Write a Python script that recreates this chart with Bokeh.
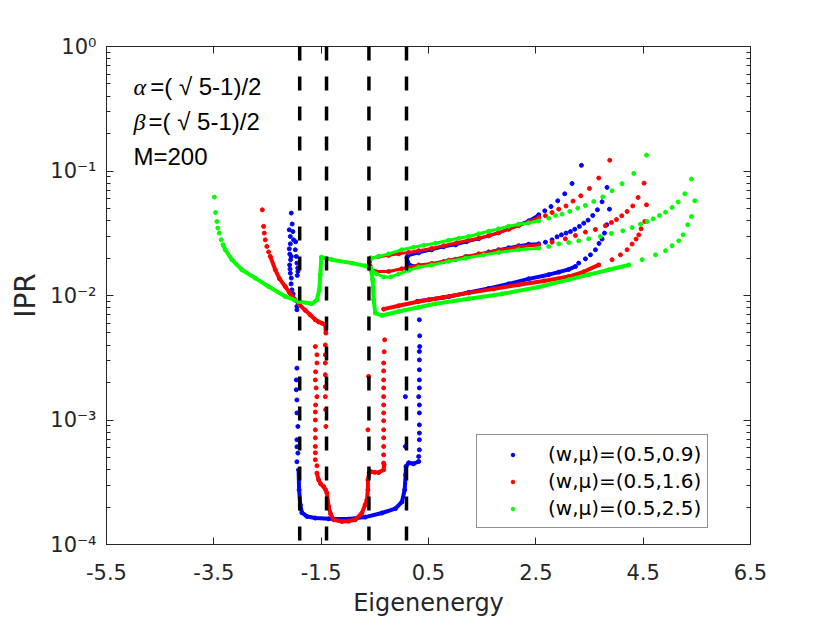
from bokeh.plotting import figure
from bokeh.models import (Range1d, FixedTicker, LinearAxis, LogAxis, Span, Label,
                          Legend, LegendItem, CustomJSTickFormatter)
from bokeh.embed import file_html
from bokeh.resources import INLINE

# ---------------- data ----------------
x_ticks = [-5.5, -3.5, -1.5, 0.5, 2.5, 4.5, 6.5]
y_ticks = [1e-4, 1e-3, 1e-2, 1e-1, 1.0]
band_edges = [-1.90, -1.40, -0.61, 0.09]
legend_labels = ["(w,μ)=(0.5,0.9)", "(w,μ)=(0.5,1.6)", "(w,μ)=(0.5,2.5)"]

# ---- (w,mu)=(0.5,0.9)  blue ----
blue_cluster_x = [-2.057, -2.094, -2.027, -2.075, -2.014, -2.075, -2.094, -1.982, -2.057, -1.963,
                  -2.070, -1.952, -2.088, -1.937, -1.934, -2.075, -2.057, -2.060, -2.045, -2.023,
                  -1.995, -1.952, -1.952, -2.085, -2.040, -1.975, -2.080, -1.945]
blue_cluster_y = [0.0459, 0.0337, 0.0326, 0.0298, 0.0280, 0.0260, 0.0237, 0.0233, 0.0206, 0.0206,
                  0.0194, 0.0182, 0.0176, 0.0166, 0.0156, 0.0151, 0.0138, 0.0124, 0.0111, 0.0103,
                  0.00923, 0.00817, 0.00768, 0.0215, 0.0375, 0.0270, 0.0163, 0.0145]
blue_drop_x = [-1.952, -1.963, -1.963, -1.952, -1.952, -1.934, -1.952, -1.952, -1.934, -1.952]
blue_drop_y = [0.00261, 0.00210, 0.00175, 0.00145, 0.00114, 0.000887, 0.000694, 0.000609,
               0.000542, 0.000462]
blue_floor_x = [-1.921, -1.911, -1.889, -1.859, -1.766, -1.609, -1.361, -0.988, -0.677, -0.368,
                -0.118, 0.005, 0.056, 0.074, 0.080, 0.130, 0.223, 0.317]
blue_floor_y = [0.000398, 0.000275, 0.000208, 0.000180, 0.000168, 0.000163, 0.000161, 0.000160,
                0.000166, 0.000179, 0.000194, 0.000220, 0.000275, 0.000363, 0.000423, 0.000453,
                0.000445, 0.000464]
blue_edge_x = [0.069, 0.069, 0.317, 0.330, 0.330, 0.330, 0.330, 0.330, 0.330, 0.317, 0.330,
               0.330, 0.330, 0.330, 0.330, 0.335, 0.335, 0.330]
blue_edge_y = [0.000613, 0.00154, 0.000509, 0.000576, 0.000694, 0.000785, 0.000914, 0.00114,
               0.00132, 0.00154, 0.00181, 0.00210, 0.00253, 0.00304, 0.00355, 0.00389, 0.00474,
               0.00638]
blue_top_x = [0.111, 0.317, 0.559, 0.783, 1.006, 1.211, 1.435, 1.622, 1.808, 1.994, 2.181,
              2.367, 2.554]
blue_top_y = [0.0208, 0.0220, 0.0233, 0.0246, 0.0255, 0.0270, 0.0285, 0.0302, 0.0319, 0.0343,
              0.0370, 0.0398, 0.0445]
blue_top_tail_x = [2.666, 2.783, 2.908, 3.038, 3.175, 3.350]
blue_top_tail_y = [0.0479, 0.0518, 0.0576, 0.0656, 0.0794, 0.111]
blue_mid_x = [0.098, 0.111, 0.149, 0.317, 0.559, 0.783, 1.006, 1.211, 1.435, 1.622, 1.808,
              1.994, 2.181, 2.367, 2.554]
blue_mid_y = [0.0201, 0.0187, 0.0176, 0.0171, 0.0178, 0.0187, 0.0195, 0.0205, 0.0214, 0.0224,
              0.0233, 0.0242, 0.0251, 0.0258, 0.0260]
blue_mid_tail_x = [2.679, 2.802, 2.895, 2.977, 3.063, 3.145, 3.225, 3.312, 3.393, 3.473, 3.560,
                   3.648, 3.734, 3.827]
blue_mid_tail_y = [0.0268, 0.0280, 0.0296, 0.0307, 0.0317, 0.0326, 0.0341, 0.0359, 0.0381,
                   0.0403, 0.0439, 0.0488, 0.0566, 0.0738]
blue_low_x = [0.285, 0.503, 0.876, 1.249, 1.622, 1.994, 2.367, 2.740, 2.927, 3.113, 3.238]
blue_low_y = [0.00895, 0.00923, 0.00977, 0.0106, 0.0114, 0.0124, 0.0136, 0.0147, 0.0154,
              0.0162, 0.0171]
blue_low_tail_x = [3.299, 3.424, 3.518, 3.611, 3.678, 3.734, 3.779, 3.821, 3.872]
blue_low_tail_y = [0.0182, 0.0197, 0.0212, 0.0233, 0.0262, 0.0284, 0.0317, 0.0370, 0.0494]

# ---- (w,mu)=(0.5,1.6)  red ----
red_tip_x = [-2.597, -2.573, -2.560, -2.541, -2.512, -2.480]
red_tip_y = [0.0488, 0.0359, 0.0317, 0.0280, 0.0248, 0.0224]
red_left_x = [-2.448, -2.355, -2.275, -2.169, -2.088, -1.982, -1.902, -1.796, -1.706, -1.609,
              -1.548, -1.486, -1.423, -1.412]
red_left_y = [0.0206, 0.0161, 0.0136, 0.0118, 0.0105, 0.00923, 0.00843, 0.00760, 0.00700,
              0.00638, 0.00614, 0.00599, 0.00582, 0.00499]
red_drop_x = [-1.609, -1.579, -1.579, -1.604, -1.609, -1.594, -1.579, -1.604, -1.609, -1.609,
              -1.609, -1.609, -1.609, -1.609, -1.609, -1.579,
              -1.423, -1.423, -1.423, -1.423, -1.423, -1.423, -1.417, -1.412,
              -0.616, -0.629,
              -0.336, -0.336, -0.336, -0.336, -0.336, -0.336, -0.336, -0.336, -0.336, -0.336,
              -0.336, -0.336, -0.336, -0.327, -0.317]
red_drop_y = [0.00389, 0.00334, 0.00287, 0.00244, 0.00210, 0.00181, 0.00154, 0.00132, 0.00116,
              0.00100, 0.000834, 0.000719, 0.000613, 0.000545, 0.000479, 0.000429,
              0.00401, 0.00334, 0.00287, 0.00231, 0.00185, 0.00154, 0.00121, 0.000887,
              0.00224, 0.000834,
              0.000451, 0.000525, 0.000613, 0.000719, 0.000834, 0.000986, 0.00114, 0.00132,
              0.00154, 0.00181, 0.00210, 0.00248, 0.00287, 0.00353, 0.00441]
red_floor_x = [-1.579, -1.548, -1.510, -1.455, -1.417, -1.393, -1.361, -1.324, -1.268, -1.113,
               -0.988, -0.864, -0.741, -0.681, -0.647, -0.629, -0.629, -0.606, -0.584, -0.504,
               -0.429, -0.336, -0.327]
red_floor_y = [0.000374, 0.000331, 0.000307, 0.000292, 0.000275, 0.000259, 0.000202, 0.000176,
               0.000158, 0.000153, 0.000154, 0.000158, 0.000179, 0.000208, 0.000229, 0.000275,
               0.000331, 0.000376, 0.000386, 0.000380, 0.000378, 0.000398, 0.000437]
red_top_x = [-0.578, -0.429, -0.243, -0.056, 0.130, 0.317, 0.559, 0.783, 1.025, 1.249, 1.435,
             1.622, 1.808, 1.994, 2.181, 2.367, 2.554]
red_top_y = [0.0200, 0.0205, 0.0210, 0.0216, 0.0222, 0.0229, 0.0239, 0.0251, 0.0265, 0.0278,
             0.0288, 0.0302, 0.0319, 0.0340, 0.0363, 0.0391, 0.0423]
red_top_tail_x = [2.679, 2.802, 2.927, 3.063, 3.193, 3.337, 3.499, 3.672, 3.877]
red_top_tail_y = [0.0437, 0.0464, 0.0494, 0.0524, 0.0573, 0.0633, 0.0724, 0.0878, 0.122]
red_mid_x = [-0.597, -0.588, -0.578, -0.491, -0.243, 0.000, 0.317, 0.559, 0.876, 1.187, 1.435,
             1.808, 2.181, 2.554]
red_mid_y = [0.0187, 0.0173, 0.0161, 0.0156, 0.0156, 0.0164, 0.0176, 0.0181, 0.0192, 0.0205,
             0.0216, 0.0231, 0.0246, 0.0255]
red_mid_tail_x = [2.802, 3.051, 3.238, 3.424, 3.611, 3.797, 3.909, 4.002, 4.101, 4.200, 4.306,
                  4.405, 4.517]
red_mid_tail_y = [0.0268, 0.0285, 0.0303, 0.0323, 0.0339, 0.0363, 0.0386, 0.0407, 0.0437,
                  0.0473, 0.0524, 0.0613, 0.0799]
red_low_x = [-0.336, -0.056, 0.317, 0.783, 1.249, 1.715, 2.181, 2.647, 3.113, 3.393, 3.672]
red_low_y = [0.00777, 0.00827, 0.00895, 0.00968, 0.0105, 0.0113, 0.0122, 0.0131, 0.0142,
             0.0155, 0.0176]
red_low_tail_x = [3.920, 4.077, 4.200, 4.293, 4.368, 4.418, 4.461, 4.530, 4.562]
red_low_tail_y = [0.0194, 0.0212, 0.0233, 0.0259, 0.0284, 0.0307, 0.0343, 0.0393, 0.0535]

# ---- (w,mu)=(0.5,2.5)  green ----
green_tip_x = [-3.492, -3.468, -3.444, -3.425, -3.399, -3.362]
green_tip_y = [0.0617, 0.0464, 0.0393, 0.0348, 0.0317, 0.0280]
green_main_x = [-3.328, -3.287, -3.164, -2.978, -2.728, -2.480, -2.169, -1.921, -1.673, -1.579,
                -1.535, -1.516, -1.497, -1.300, -0.927, -0.677, -0.578, -0.541, -0.522, -0.491,
                -0.368, -0.056, 0.317, 0.628, 1.249, 1.870, 2.554, 3.113, 3.486, 3.859, 4.232]
green_main_y = [0.0255, 0.0233, 0.0194, 0.0161, 0.0138, 0.0118, 0.00982, 0.00895, 0.00858,
                0.00923, 0.0111, 0.0147, 0.0203, 0.0194, 0.0182, 0.0173, 0.0166, 0.0134,
                0.00923, 0.00722, 0.00691, 0.00744, 0.00804, 0.00858, 0.00941, 0.0103, 0.0117,
                0.0134, 0.0147, 0.0161, 0.0176]
green_main_tail_x = [4.480, 4.729, 4.916, 5.039, 5.164, 5.244, 5.331, 5.400, 5.462]
green_main_tail_y = [0.0194, 0.0212, 0.0229, 0.0251, 0.0275, 0.0307, 0.0370, 0.0431, 0.0576]
green_top_x = [-0.560, -0.429, -0.243, 0.000, 0.223, 0.410, 0.628, 0.876, 1.062, 1.249, 1.435,
               1.622, 1.808, 1.994, 2.181, 2.367, 2.554]
green_top_y = [0.0199, 0.0206, 0.0216, 0.0233, 0.0244, 0.0253, 0.0263, 0.0278, 0.0288, 0.0298,
               0.0313, 0.0328, 0.0343, 0.0360, 0.0373, 0.0383, 0.0398]
green_top_tail_x = [2.740, 2.865, 2.988, 3.132, 3.281, 3.424, 3.579, 3.747, 3.920, 4.107,
                    4.325, 4.562]
green_top_tail_y = [0.0418, 0.0439, 0.0451, 0.0473, 0.0503, 0.0528, 0.0569, 0.0620, 0.0694,
                    0.0790, 0.0956, 0.134]
green_mid_x = [-0.560, -0.466, -0.336, -0.205, -0.056, 0.130, 0.317, 0.559, 0.876, 1.187,
               1.528, 1.808, 2.181, 2.554]
green_mid_y = [0.0161, 0.0149, 0.0141, 0.0141, 0.0149, 0.0159, 0.0169, 0.0176, 0.0188, 0.0199,
               0.0212, 0.0222, 0.0233, 0.0240]
green_mid_tail_x = [2.740, 2.927, 3.113, 3.299, 3.486, 3.704, 3.909, 4.120, 4.293, 4.450,
                    4.573, 4.685, 4.804, 4.916, 5.039, 5.151, 5.276, 5.400]
green_mid_tail_y = [0.0248, 0.0260, 0.0266, 0.0275, 0.0285, 0.0298, 0.0315, 0.0331, 0.0351,
                    0.0374, 0.0393, 0.0413, 0.0439, 0.0467, 0.0509, 0.0563, 0.0656, 0.0861]

# ---------------- figure ----------------
FONT = "DejaVu Sans"
AX = "#262626"
BLUE, RED, GREEN = "#0000ff", "#ff0000", "#00ff00"

p = figure(frame_width=644, frame_height=498,
           x_range=Range1d(-5.5, 6.5), y_range=Range1d(1e-4, 1.0),
           y_axis_type="log", output_backend="svg", toolbar_location=None,
           min_border_left=106, min_border_right=64, min_border_top=46, min_border_bottom=70,
           background_fill_color="white", border_fill_color="white",
           outline_line_color=AX, outline_line_width=1)
p.xgrid.visible = False
p.ygrid.visible = False

y_minor = [k * 10.0 ** d for d in (-4, -3, -2, -1) for k in range(2, 10)]
xticker = FixedTicker(ticks=x_ticks, minor_ticks=[])
yticker = FixedTicker(ticks=y_ticks, minor_ticks=y_minor)

sup_code = """
const e = Math.round(Math.log10(tick));
const m = {"-": "\u207b", "0": "\u2070", "1": "\u00b9", "2": "\u00b2", "3": "\u00b3", "4": "\u2074"};
return "10" + String(e).split("").map(c => m[c]).join("");
"""


def style(ax):
    ax.axis_line_color = AX
    ax.axis_line_width = 1
    ax.major_tick_line_color = AX
    ax.minor_tick_line_color = AX
    ax.major_tick_in = 7
    ax.major_tick_out = 0
    ax.minor_tick_in = 4
    ax.minor_tick_out = 0
    ax.major_label_text_font = FONT
    ax.major_label_text_font_size = "21px"
    ax.major_label_text_color = AX
    ax.axis_label_text_font = FONT
    ax.axis_label_text_font_style = "normal"
    ax.axis_label_text_color = AX


xa = p.xaxis[0]
style(xa)
xa.ticker = xticker
xa.formatter = CustomJSTickFormatter(code="return tick.toFixed(1);")
xa.axis_label = "Eigenenergy"
xa.axis_label_text_font_size = "24px"
xa.major_label_standoff = 19
xa.axis_label_standoff = 6

ya = p.yaxis[0]
style(ya)
ya.ticker = yticker
ya.formatter = CustomJSTickFormatter(code=sup_code)
ya.axis_label = "IPR"
ya.axis_label_text_font_size = "28px"
ya.major_label_standoff = 10
ya.axis_label_standoff = 5

top = LinearAxis(ticker=xticker, formatter=CustomJSTickFormatter(code="return ''"))
style(top)
top.major_label_text_font_size = "0px"
top.major_label_standoff = 0
p.add_layout(top, "above")

right = LogAxis(ticker=yticker, formatter=CustomJSTickFormatter(code="return ''"))
style(right)
right.major_label_text_font_size = "0px"
right.major_label_standoff = 0
p.add_layout(right, "right")

DOT = 4


def dense(x, y, c, w=4):
    p.line(x, y, line_color=c, line_width=w, line_join="round", line_cap="round")
    return p.scatter(x, y, size=DOT, color=c, marker="circle")


def sparse(x, y, c):
    return p.scatter(x, y, size=DOT, color=c, marker="circle")


# blue first, then red, then green (plot order)
rb = sparse(blue_cluster_x, blue_cluster_y, BLUE)
sparse(blue_drop_x, blue_drop_y, BLUE)
dense(blue_floor_x, blue_floor_y, BLUE)
sparse(blue_edge_x, blue_edge_y, BLUE)
dense(blue_top_x, blue_top_y, BLUE, 3)
sparse(blue_top_tail_x, blue_top_tail_y, BLUE)
dense(blue_mid_x, blue_mid_y, BLUE, 3)
sparse(blue_mid_tail_x, blue_mid_tail_y, BLUE)
dense(blue_low_x, blue_low_y, BLUE)
sparse(blue_low_tail_x, blue_low_tail_y, BLUE)

rr = sparse(red_tip_x, red_tip_y, RED)
dense(red_left_x, red_left_y, RED)
sparse(red_drop_x, red_drop_y, RED)
dense(red_floor_x, red_floor_y, RED)
dense(red_top_x, red_top_y, RED, 3)
sparse(red_top_tail_x, red_top_tail_y, RED)
dense(red_mid_x, red_mid_y, RED, 3)
sparse(red_mid_tail_x, red_mid_tail_y, RED)
dense(red_low_x, red_low_y, RED)
sparse(red_low_tail_x, red_low_tail_y, RED)

rg = sparse(green_tip_x, green_tip_y, GREEN)
dense(green_main_x, green_main_y, GREEN)
sparse(green_main_tail_x, green_main_tail_y, GREEN)
dense(green_top_x, green_top_y, GREEN, 3)
sparse(green_top_tail_x, green_top_tail_y, GREEN)
dense(green_mid_x, green_mid_y, GREEN, 3)
sparse(green_mid_tail_x, green_mid_tail_y, GREEN)

for xv in band_edges:
    p.add_layout(Span(location=xv, dimension="height", line_color="black",
                      line_width=3.5, line_dash="14 16"))

# annotations
ann = [
    (-4.997, 0.4765, "α", "Liberation Serif", "italic"),
    (-4.685, 0.4765, "=( √ 5-1)/2", "Liberation Sans", "normal"),
    (-4.997, 0.2492, "β", "Liberation Serif", "italic"),
    (-4.717, 0.2492, "=( √ 5-1)/2", "Liberation Sans", "normal"),
    (-4.997, 0.1312, "M=200", "Liberation Sans", "normal"),
]
for ax_, ay_, t, f, s in ann:
    p.add_layout(Label(x=ax_, y=ay_, text=t, text_font=f, text_font_style=s,
                       text_font_size="24px", text_baseline="alphabetic",
                       text_color="#000000"))

legend = Legend(items=[LegendItem(label=legend_labels[0], renderers=[rb]),
                       LegendItem(label=legend_labels[1], renderers=[rr]),
                       LegendItem(label=legend_labels[2], renderers=[rg])],
                location=(370, 16), orientation="vertical",
                label_text_font=FONT, label_text_font_size="20px", label_text_color="#000000",
                glyph_width=59, glyph_height=9, label_standoff=6, label_height=26,
                spacing=1, padding=6, margin=0,
                border_line_color=AX, border_line_width=1,
                background_fill_color="white", background_fill_alpha=1.0)
p.add_layout(legend)

html = file_html(p, INLINE, title="IPR")
with open("out.html", "w", encoding="utf-8") as fh:
    fh.write(html)
